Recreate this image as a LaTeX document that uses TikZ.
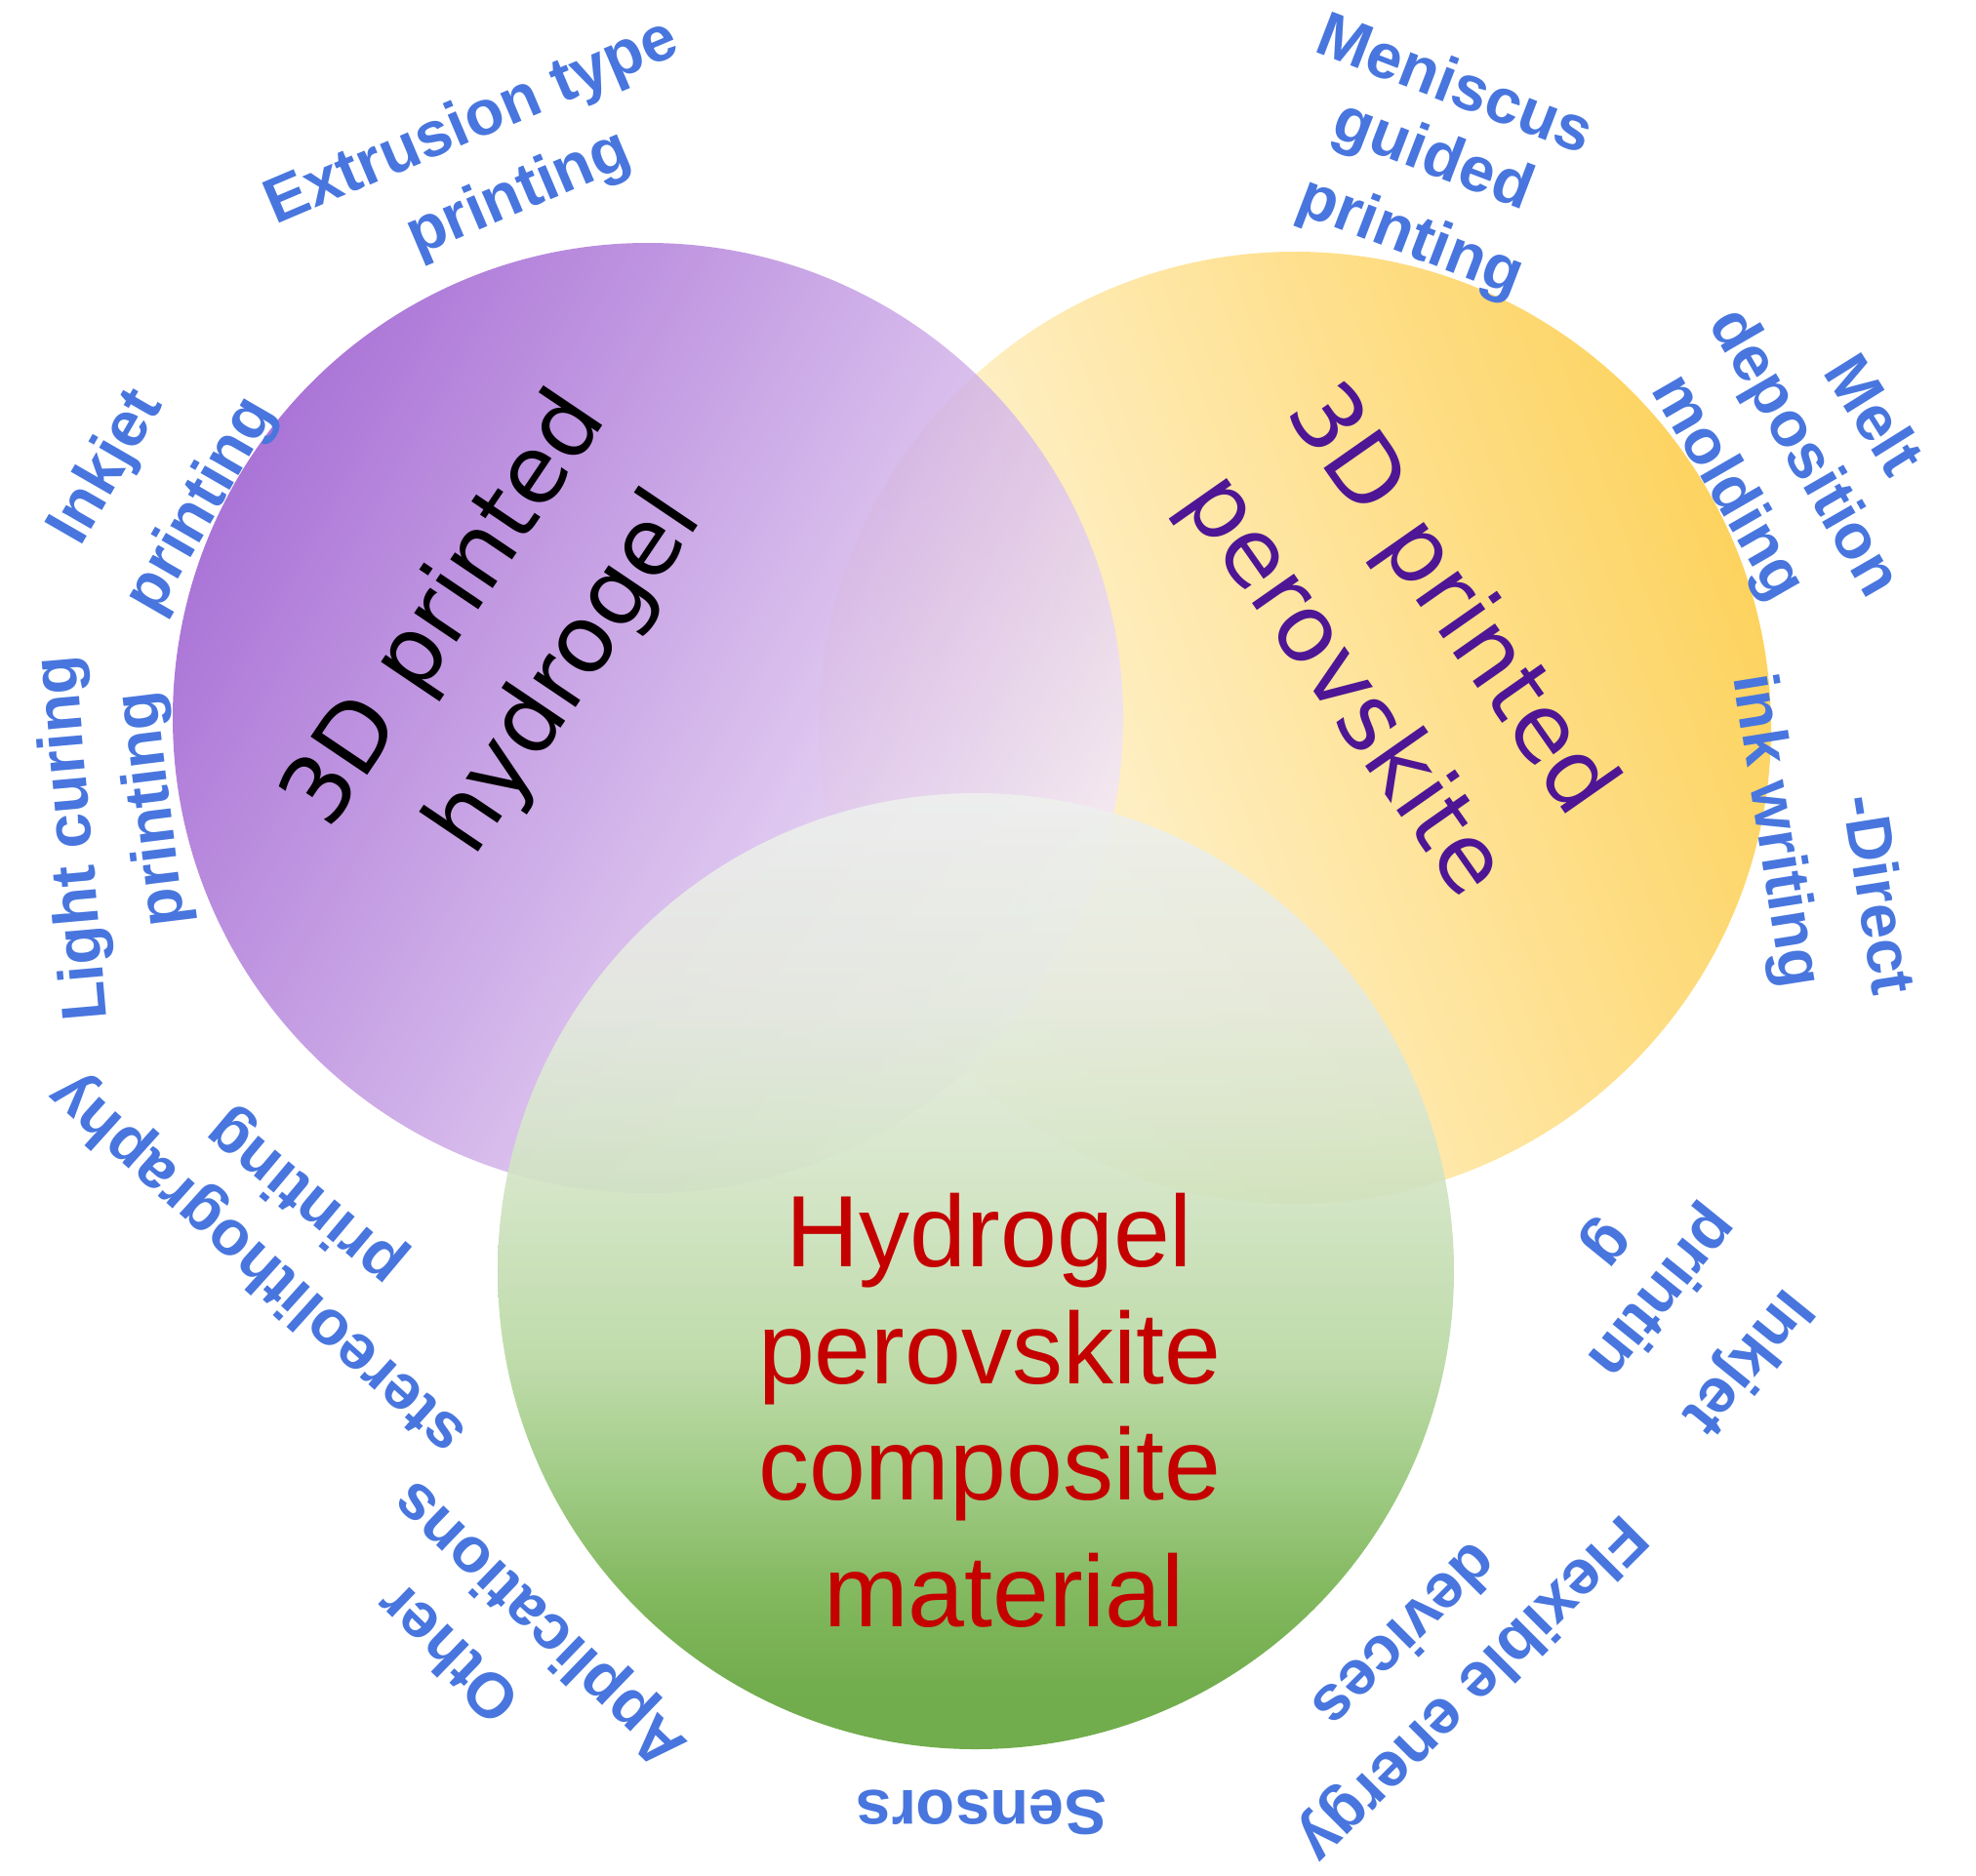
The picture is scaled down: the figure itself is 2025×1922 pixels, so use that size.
\documentclass[tikz,border=0pt]{standalone}
\usepackage{fontspec}
\setmainfont{Liberation Sans}
\newfontfamily\titlefont{DejaVu Sans}
\definecolor{lblblue}{RGB}{72,118,222}
\definecolor{pdark}{RGB}{152,86,206}
\definecolor{plight}{RGB}{244,234,250}
\definecolor{ysat}{RGB}{253,206,78}
\definecolor{ylight}{RGB}{255,250,236}
\definecolor{ga}{RGB}{98,163,58}
\definecolor{gb}{RGB}{116,176,76}
\definecolor{gc}{RGB}{150,198,120}
\definecolor{gd}{RGB}{183,215,160}
\definecolor{ge}{RGB}{214,230,202}
\definecolor{gf}{RGB}{228,234,222}
\definecolor{gg}{RGB}{238,240,238}
\definecolor{redtxt}{RGB}{196,0,0}
\definecolor{indigotxt}{RGB}{78,22,148}
\pgfdeclareverticalshading{greenshade}{100bp}{color(0bp)=(ga); color(28bp)=(ga); color(33bp)=(gb); color(39bp)=(gc); color(45bp)=(gd); color(57bp)=(ge); color(64bp)=(gf); color(75bp)=(gg); color(100bp)=(gg)}
\tikzset{
  lbl/.style={font=\fontsize{65}{78}\selectfont\bfseries, text=lblblue, inner sep=0pt, anchor=center},
  ttl/.style={font=\titlefont\fontsize{96}{130}\selectfont, inner sep=0pt, anchor=center},
  redlbl/.style={font=\fontsize{104}{120}\selectfont, text=redtxt, inner sep=0pt, anchor=center},
}
\begin{document}
\begin{tikzpicture}[x=1pt,y=-1pt]
\useasboundingbox (0,0) rectangle (2025,1922);
% circles
\shade[left color=ylight, right color=ysat, shading angle=110, opacity=0.9] (1327,746) circle[radius=488pt];
\shade[left color=pdark, right color=plight, shading angle=60, opacity=0.82] (664,736) circle[radius=487pt];
\shade[shading=greenshade, opacity=0.9] (1000,1303) circle[radius=490pt];
% titles
\node[ttl, rotate=56] (h1) at (458,626) {3D printed};
\node[ttl, rotate=56] (h2) at (581,691) {hydrogel};
\node[ttl, rotate=-55, text=indigotxt] (p1) at (1485,617) {3D printed};
\node[ttl, rotate=-55, text=indigotxt] (p2) at (1375,704) {perovskite};
\node[redlbl] (r1) at (1014,1272) {Hydrogel};
\node[redlbl] (r2) at (1014,1392) {perovskite};
\node[redlbl] (r3) at (1014,1511) {composite};
\node[redlbl] (r4) at (1029,1630) {material};
% outer labels
\node[lbl, rotate=23] (ext1) at (484,127) {Extrusion type};
\node[lbl, rotate=23] (ext2) at (532,200) {printing};
\node[lbl, rotate=60] (ink1) at (110,480) {Inkjet};
\node[lbl, rotate=60] (ink2) at (207,519) {printing};
\node[lbl, rotate=95] (lc1) at (77,859) {Light curing};
\node[lbl, rotate=97] (lc2) at (158,829) {printing};
\node[lbl, rotate=138] (st1) at (265,1294) {stereolithography};
\node[lbl, rotate=140] (st2) at (314,1227) {printing};
\node[lbl, rotate=136] (ot1) at (458,1696) {Other};
\node[lbl, rotate=136] (ot2) at (555,1663) {Applications};
\node[lbl, rotate=180] (sen) at (1006,1858) {Sensors};
\node[lbl, rotate=-135] (fl1) at (1507,1730) {Flexible energy};
\node[lbl, rotate=-135] (fl2) at (1442,1678) {devices};
\node[lbl, rotate=-129] (ij1) at (1789,1395) {Inkjet};
\node[lbl, rotate=-129] (ij2) at (1702,1324) {printin};
\node[lbl, rotate=-129] (ij3) at (1643,1272) {g};
\node[lbl, rotate=-81] (di1) at (1927,917) {-Direct};
\node[lbl, rotate=-81] (di2) at (1818,852) {ink writing};
\node[lbl, rotate=-58] (me1) at (1922,424) {Melt};
\node[lbl, rotate=-60] (me2) at (1847,465) {deposition};
\node[lbl, rotate=-60] (me3) at (1769,501) {molding};
\node[lbl, rotate=-21] (mn1) at (1492,84) {Meniscus};
\node[lbl, rotate=-21] (mn2) at (1468,162) {guided};
\node[lbl, rotate=-21] (mn3) at (1445,245) {printing};
\end{tikzpicture}
\end{document}
